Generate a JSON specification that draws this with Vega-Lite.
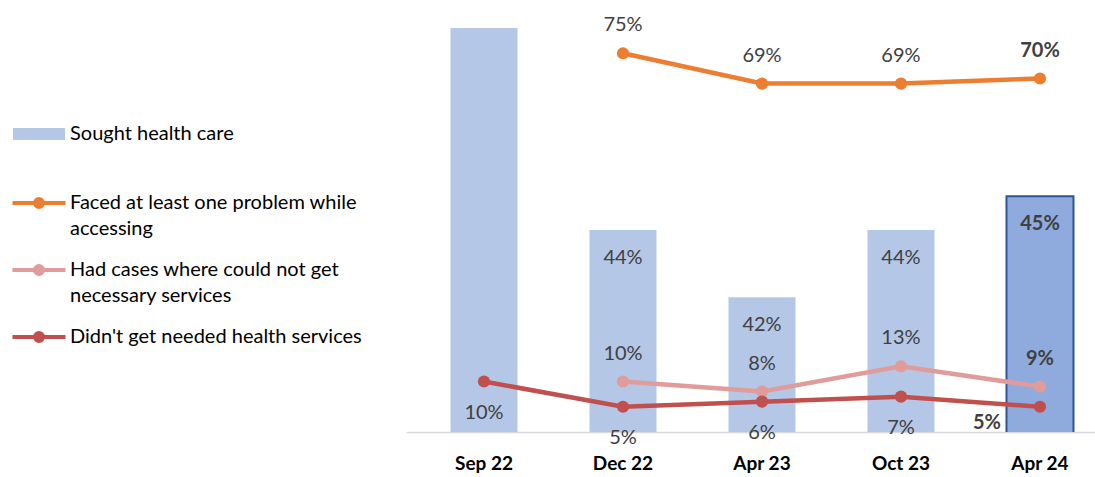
{
  "$schema": "https://vega.github.io/schema/vega-lite/v6.json",
  "width": 689,
  "height": 404,
  "autosize": "none",
  "padding": {"left": 406, "top": 28, "right": 0, "bottom": 45},
  "config": {"view": {"stroke": null}, "font": "Lato", "axis": {"grid": false}},
  "datasets": {
    "bars": [
      {"period": "Sep 22", "series": "Sought health care", "value": 0.50},
      {"period": "Dec 22", "series": "Sought health care", "value": 0.44},
      {"period": "Apr 23", "series": "Sought health care", "value": 0.42},
      {"period": "Oct 23", "series": "Sought health care", "value": 0.44},
      {"period": "Apr 24", "series": "Sought health care", "value": 0.45}
    ],
    "lines": [
      {"period": "Dec 22", "series": "Faced at least one problem while accessing", "value": 0.75},
      {"period": "Apr 23", "series": "Faced at least one problem while accessing", "value": 0.69},
      {"period": "Oct 23", "series": "Faced at least one problem while accessing", "value": 0.69},
      {"period": "Apr 24", "series": "Faced at least one problem while accessing", "value": 0.70},
      {"period": "Dec 22", "series": "Had cases where could not get necessary services", "value": 0.10},
      {"period": "Apr 23", "series": "Had cases where could not get necessary services", "value": 0.08},
      {"period": "Oct 23", "series": "Had cases where could not get necessary services", "value": 0.13},
      {"period": "Apr 24", "series": "Had cases where could not get necessary services", "value": 0.09},
      {"period": "Sep 22", "series": "Didn't get needed health services", "value": 0.10},
      {"period": "Dec 22", "series": "Didn't get needed health services", "value": 0.05},
      {"period": "Apr 23", "series": "Didn't get needed health services", "value": 0.06},
      {"period": "Oct 23", "series": "Didn't get needed health services", "value": 0.07},
      {"period": "Apr 24", "series": "Didn't get needed health services", "value": 0.05}
    ]
  },
  "encoding": {
    "x": {
      "field": "period",
      "type": "ordinal",
      "sort": ["Sep 22", "Dec 22", "Apr 23", "Oct 23", "Apr 24"],
      "scale": {"paddingInner": 0.518, "paddingOuter": 0.2375, "align": 0.674},
      "axis": {"title": null, "labelAngle": 0, "labelFont": "Lato", "labelFontSize": 19, "labelFontWeight": "bold", "labelColor": "#000000", "ticks": false, "domainColor": "#D9D9D9", "domainWidth": 1.5, "labelPadding": 22}
    }
  },
  "layer": [
    {
      "data": {"name": "bars"},
      "encoding": {"y": {"field": "value", "type": "quantitative", "scale": {"domain": [0.38, 0.5], "zero": false, "nice": false}, "axis": null}},
      "layer": [
        {
          "mark": {"type": "bar", "strokeWidth": 2, "clip": true},
          "encoding": {
            "fill": {
              "condition": {"test": "datum.period === 'Apr 24'", "value": "#8FAADC"},
              "field": "series", "type": "nominal",
              "scale": {"range": ["#B4C7E7"]},
              "legend": {"title": null, "orient": "none", "legendX": -377, "legendY": 96, "padding": 0, "symbolType": "M-2.6,-0.6H2.6V0.6H-2.6Z", "symbolSize": 400, "symbolStrokeWidth": 0, "labelFont": "Lato", "labelFontSize": 20, "labelColor": "#000000", "labelOffset": 21, "labelLimit": 400}
            },
            "stroke": {"condition": {"test": "datum.period === 'Apr 24'", "value": "#2F5597"}, "value": "transparent"}
          }
        },
        {
          "transform": [{"filter": "datum.period !== 'Sep 22' && datum.period !== 'Apr 24'"}],
          "mark": {"type": "text", "dy": 28, "fontSize": 20, "color": "#404040"},
          "encoding": {"text": {"field": "value", "format": ".0%"}}
        },
        {
          "transform": [{"filter": "datum.period === 'Apr 24'"}],
          "mark": {"type": "text", "dy": 28, "fontSize": 20, "fontWeight": "bold", "color": "#404040"},
          "encoding": {"text": {"field": "value", "format": ".0%"}}
        }
      ]
    },
    {
      "data": {"name": "lines"},
      "encoding": {"y": {"field": "value", "type": "quantitative", "scale": {"domain": [0, 0.8], "nice": false}, "axis": null}},
      "layer": [
        {
          "mark": {"type": "line", "strokeWidth": 4.5},
          "encoding": {
            "color": {
              "field": "series", "type": "nominal",
              "scale": {"domain": ["Faced at least one problem while accessing", "Had cases where could not get necessary services", "Didn't get needed health services"], "range": ["#ED7D31", "#E09C9B", "#C0504D"]},
              "legend": {"title": null, "orient": "none", "legendX": -379, "legendY": 163, "padding": 0, "rowPadding": 19, "symbolType": "M-2.65,0H2.65M-0.4,0A0.4,0.4,0,1,1,0.4,0A0.4,0.4,0,1,1,-0.4,0Z", "symbolSize": 400, "symbolStrokeWidth": 4, "labelFont": "Lato", "labelFontSize": 20, "labelColor": "#000000", "labelOffset": 19, "labelLimit": 400,
                "labelExpr": "datum.label === 'Faced at least one problem while accessing' ? ['Faced at least one problem while', 'accessing'] : datum.label === 'Had cases where could not get necessary services' ? ['Had cases where could not get', 'necessary services'] : datum.label",
                "encode": {"symbols": {"update": {"fill": {"scale": "color", "field": "value"}, "stroke": {"scale": "color", "field": "value"}, "strokeWidth": {"value": 4}, "opacity": {"value": 1}}}, "labels": {"update": {"lineHeight": {"value": 26}}}}
              },
              "sort": ["Faced at least one problem while accessing", "Had cases where could not get necessary services", "Didn't get needed health services"]
            }
          }
        },
        {
          "mark": {"type": "point", "filled": true, "size": 150, "opacity": 1},
          "encoding": {"color": {"field": "series", "type": "nominal"}}
        },
        {
          "transform": [{"filter": "datum.series !== \"Didn't get needed health services\" && datum.period !== 'Apr 24'"}],
          "mark": {"type": "text", "dy": -28, "fontSize": 20, "color": "#404040"},
          "encoding": {"text": {"field": "value", "format": ".0%"}}
        },
        {
          "transform": [{"filter": "datum.series === \"Didn't get needed health services\" && datum.period !== 'Apr 24'"}],
          "mark": {"type": "text", "dy": 31, "fontSize": 20, "color": "#404040"},
          "encoding": {"text": {"field": "value", "format": ".0%"}}
        },
        {
          "transform": [{"filter": "datum.series !== \"Didn't get needed health services\" && datum.period === 'Apr 24'"}],
          "mark": {"type": "text", "dy": -28, "fontSize": 20, "fontWeight": "bold", "color": "#404040"},
          "encoding": {"text": {"field": "value", "format": ".0%"}}
        },
        {
          "transform": [{"filter": "datum.series === \"Didn't get needed health services\" && datum.period === 'Apr 24'"}],
          "mark": {"type": "text", "dx": -53, "dy": 16, "fontSize": 20, "fontWeight": "bold", "color": "#404040"},
          "encoding": {"text": {"field": "value", "format": ".0%"}}
        }
      ]
    }
  ],
  "resolve": {"scale": {"y": "independent"}}
}
